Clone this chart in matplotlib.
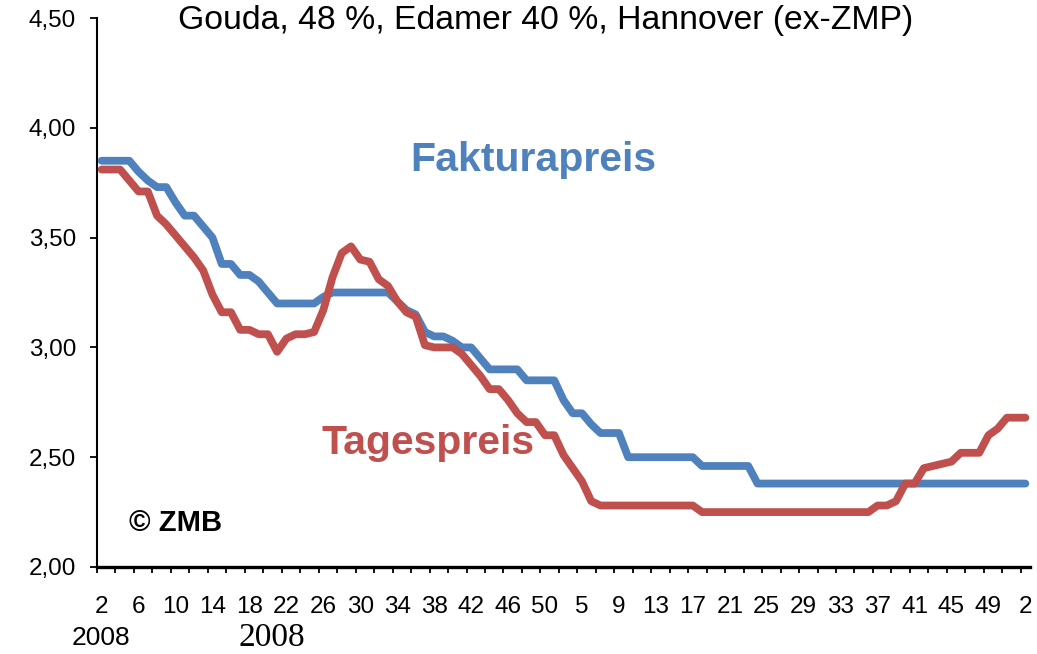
import matplotlib

matplotlib.use("Agg")
import matplotlib.pyplot as plt
import numpy as np

# Wochennotierungen 2008 KW 2 bis 2010 KW 2 (Euro/kg)
FAKTURAPREIS = [
    3.85, 3.85, 3.85, 3.85, 3.80, 3.76, 3.73, 3.73, 3.66, 3.60,
    3.60, 3.55, 3.50, 3.38, 3.38, 3.33, 3.33, 3.30, 3.25, 3.20,
    3.20, 3.20, 3.20, 3.20, 3.23, 3.25, 3.25, 3.25, 3.25, 3.25,
    3.25, 3.25, 3.21, 3.17, 3.15, 3.07, 3.05, 3.05, 3.03, 3.00,
    3.00, 2.95, 2.90, 2.90, 2.90, 2.90, 2.85, 2.85, 2.85, 2.85,
    2.76, 2.70, 2.70, 2.65, 2.61, 2.61, 2.61, 2.50, 2.50, 2.50,
    2.50, 2.50, 2.50, 2.50, 2.50, 2.46, 2.46, 2.46, 2.46, 2.46,
    2.46, 2.38, 2.38, 2.38, 2.38, 2.38, 2.38, 2.38, 2.38, 2.38,
    2.38, 2.38, 2.38, 2.38, 2.38, 2.38, 2.38, 2.38, 2.38, 2.38,
    2.38, 2.38, 2.38, 2.38, 2.38, 2.38, 2.38, 2.38, 2.38, 2.38,
    2.38,
]
TAGESPREIS = [
    3.81, 3.81, 3.81, 3.76, 3.71, 3.71, 3.60, 3.56, 3.51, 3.46,
    3.41, 3.35, 3.24, 3.16, 3.16, 3.08, 3.08, 3.06, 3.06, 2.98,
    3.04, 3.06, 3.06, 3.07, 3.17, 3.32, 3.43, 3.46, 3.40, 3.39,
    3.31, 3.28, 3.21, 3.16, 3.14, 3.01, 3.00, 3.00, 3.00, 2.97,
    2.92, 2.87, 2.81, 2.81, 2.76, 2.70, 2.66, 2.66, 2.60, 2.60,
    2.51, 2.45, 2.39, 2.30, 2.28, 2.28, 2.28, 2.28, 2.28, 2.28,
    2.28, 2.28, 2.28, 2.28, 2.28, 2.25, 2.25, 2.25, 2.25, 2.25,
    2.25, 2.25, 2.25, 2.25, 2.25, 2.25, 2.25, 2.25, 2.25, 2.25,
    2.25, 2.25, 2.25, 2.25, 2.28, 2.28, 2.30, 2.38, 2.38, 2.45,
    2.46, 2.47, 2.48, 2.52, 2.52, 2.52, 2.60, 2.63, 2.68, 2.68,
    2.68,
]
WEEK_LABELS = [
    "2", "6", "10", "14", "18", "22", "26", "30", "34", "38", "42", "46", "50",
    "5", "9", "13", "17", "21", "25", "29", "33", "37", "41", "45", "49", "2",
]
Y_TICKS = [2.0, 2.5, 3.0, 3.5, 4.0, 4.5]

BLUE = "#4F81BD"
RED = "#C0504D"

plt.rcParams["font.family"] = ["Liberation Sans", "DejaVu Sans"]

W, H = 1037, 654
fig = plt.figure(figsize=(W / 100, H / 100), dpi=100)
fig.patch.set_facecolor("white")
ax = fig.add_axes([97 / W, 1 - 567 / H, 933 / W, (567 - 18) / H])

x = np.arange(len(FAKTURAPREIS))
line_kw = dict(linewidth=5.6, solid_capstyle="round", solid_joinstyle="round")
ax.plot(x, FAKTURAPREIS, color=BLUE, zorder=3, **line_kw)
ax.plot(x, TAGESPREIS, color=RED, zorder=4, **line_kw)

ax.set_xlim(-0.5, len(x) - 0.5)
ax.set_ylim(2.0, 4.5)

ax.set_yticks(Y_TICKS)
ax.set_yticklabels([f"{v:.2f}".replace(".", ",") for v in Y_TICKS])
ax.tick_params(axis="y", direction="out", length=5, width=1.3, pad=10, labelsize=17.5)

ax.set_xticks(np.arange(0, len(x), 4))
ax.set_xticklabels(WEEK_LABELS)
ax.set_xticks(np.arange(-0.5, len(x), 2), minor=True)
ax.tick_params(axis="x", which="major", length=0, pad=21, labelsize=17.5)
ax.tick_params(axis="x", which="minor", direction="out", length=4, width=1.3)

for side in ("top", "right"):
    ax.spines[side].set_visible(False)
ax.spines["left"].set_linewidth(1.5)
ax.spines["bottom"].set_linewidth(2.4)

fig.text(546 / W, 1 - 20 / H, "Gouda, 48 %, Edamer 40 %, Hannover (ex-ZMP)",
         ha="center", va="center", fontsize=24.3)
fig.text(533 / W, 1 - 160 / H, "Fakturapreis", ha="center", va="center",
         fontsize=29.5, fontweight="bold", color=BLUE)
fig.text(428 / W, 1 - 443 / H, "Tagespreis", ha="center", va="center",
         fontsize=29.5, fontweight="bold", color=RED)
fig.text(176 / W, 1 - 523 / H, "© ZMB", ha="center", va="center",
         fontsize=21, fontweight="bold", color="black")
fig.text(101 / W, 1 - 638 / H, "2008", ha="center", va="center", fontsize=19)
fig.text(272 / W, 1 - 638 / H, "2008", ha="center", va="center", fontsize=24,
         family=["Liberation Serif", "DejaVu Serif"])

fig.savefig("out.png", dpi=100, facecolor="white")
